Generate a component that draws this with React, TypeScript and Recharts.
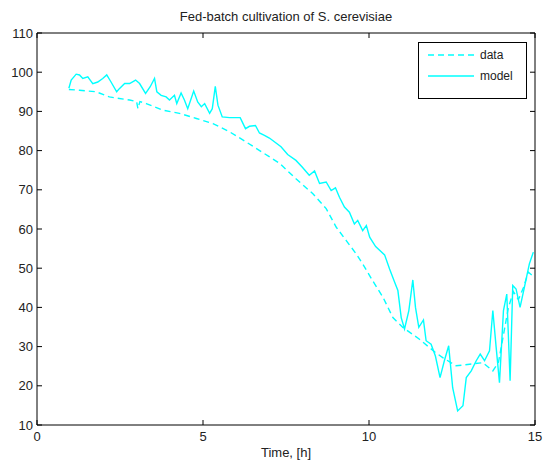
import * as React from "react";
import { LineChart, Line, XAxis, YAxis, Legend } from "recharts";

// noisy solid curve ("model")
const modelTime = [
  0.96, 1.03, 1.18, 1.28, 1.38, 1.53, 1.68, 1.83, 1.98, 2.1, 2.23, 2.4, 2.48, 2.64, 2.79, 2.97,
  3.09, 3.27, 3.41, 3.54, 3.61, 3.74, 3.89, 3.99, 4.14, 4.21, 4.34, 4.44, 4.54, 4.72, 4.84, 4.95,
  5.05, 5.2, 5.28, 5.37, 5.45, 5.58, 5.8, 6.12, 6.28, 6.4, 6.58, 6.7, 6.85, 7.0, 7.35, 7.55,
  7.8, 8.0, 8.2, 8.36, 8.51, 8.71, 8.86, 8.99, 9.11, 9.26, 9.41, 9.56, 9.66, 9.81, 9.92, 10.02,
  10.2, 10.47, 10.62, 10.77, 10.87, 10.97, 11.07, 11.2, 11.32, 11.4, 11.5, 11.64, 11.72, 11.87,
  12.0, 12.14, 12.27, 12.4, 12.52, 12.67, 12.83, 12.93, 13.08, 13.23, 13.35, 13.48, 13.63, 13.73,
  13.83, 13.93, 14.05, 14.15, 14.25, 14.33, 14.43, 14.55, 14.68, 14.83, 14.95,
];
const modelValue = [
  95.9, 98, 99.5, 99.3, 98.4, 98.8, 97.1, 97.5, 98.4, 99.3, 97.5, 95, 95.8, 97.1, 97.1, 98,
  97.1, 94.6, 96.3, 98.4, 95, 94.1, 93.7, 92.9, 94.1, 92, 94.7, 92.9, 90.7, 95.2, 92.4, 91.2,
  92, 89.5, 90.7, 96.4, 91.6, 88.6, 88.4, 88.4, 85.6, 86.2, 86.4, 84.5, 83.9, 83.2, 81, 79,
  77.5, 75.7, 73.7, 74.8, 71.6, 72, 69.8, 70.5, 68.1, 65.6, 64.3, 61.3, 62.2, 59.6, 60.9, 57.9,
  55.5, 53.4, 49.8, 46.5, 44.3, 37.4, 34.5, 39.2, 47, 40, 34.9, 36.8, 31.5, 30.6,
  27.6, 22.1, 26.4, 30.2, 19.5, 13.6, 14.9, 22.1, 23.8, 26.4, 28.1, 26.4, 28.9, 39.2,
  29.8, 20.8, 39.2, 43.4, 21.3, 45.6, 44.7, 40, 45.1, 51.1, 54.1,
];

// smooth dashed curve ("data")
const dataTime = [
  0.96, 1.28, 1.78, 2.18, 2.79, 3.0, 3.04, 3.1, 3.29, 3.79, 4.29, 4.8, 5.3, 5.8, 6.3, 6.8, 7.3,
  7.8, 8.31, 8.71, 9.01, 9.31, 9.61, 9.81, 10.11, 10.42, 10.72, 11.02, 11.5, 12.0, 12.22, 12.62,
  13.03, 13.43, 13.73, 13.9, 14.05, 14.2, 14.35, 14.5, 14.65, 14.8, 14.98,
];
const dataValue = [
  95.6, 95.4, 95, 93.7, 92.9, 92.5, 90.7, 92.5, 92, 90.3, 89.5, 88.2, 86.9, 84.8, 82.2, 79.5, 76.8,
  72.8, 69, 65.2, 60.5, 57.1, 53.7, 51.1, 46.8, 42.6, 37.4, 34.9, 32, 28.5, 27.2, 25.1,
  25.5, 25.9, 23.8, 26, 33, 40, 44, 42, 45, 49, 47.7,
];

const xTicks = [0, 5, 10, 15];
const yTicks = [10, 20, 30, 40, 50, 60, 70, 80, 90, 100, 110];

const modelSeries = modelTime.map((t, i) => ({ t, v: modelValue[i] }));
const dataSeries = dataTime.map((t, i) => ({ t, v: dataValue[i] }));

const FONT = "'Liberation Sans', Arial, sans-serif";
const CYAN = "#00ffff";

const BottomTick = (p: any) => (
  <g>
    <line x1={p.x} x2={p.x} y1={p.y} y2={p.y - 5} stroke="#000" />
    <text x={p.x} y={p.y + 16} textAnchor="middle" fontSize={13} fontFamily={FONT} fill="#222">
      {p.payload.value}
    </text>
  </g>
);
const TopTick = (p: any) => <line x1={p.x} x2={p.x} y1={p.y} y2={p.y + 5} stroke="#000" />;
const LeftTick = (p: any) => (
  <g>
    <line x1={p.x} x2={p.x + 5} y1={p.y} y2={p.y} stroke="#000" />
    <text x={p.x - 4} y={p.y + 4.5} textAnchor="end" fontSize={13} fontFamily={FONT} fill="#222">
      {p.payload.value}
    </text>
  </g>
);
const RightTick = (p: any) => <line x1={p.x} x2={p.x - 5} y1={p.y} y2={p.y} stroke="#000" />;

const renderLegend = () => (
  <div
    style={{
      width: 109, height: 57, boxSizing: "border-box", border: "1px solid #000",
      background: "#fff", fontFamily: FONT, fontSize: 12,
    }}
  >
    <svg width={107} height={55}>
      <line x1={9} x2={55} y1={12} y2={12} stroke={CYAN} strokeWidth={1.5} strokeDasharray="6 4" />
      <text x={61} y={16} fontSize={12} fontFamily={FONT} fill="#222">data</text>
      <line x1={9} x2={55} y1={33} y2={33} stroke={CYAN} strokeWidth={1.5} />
      <text x={61} y={37} fontSize={12} fontFamily={FONT} fill="#222">model</text>
    </svg>
  </div>
);

export default function App() {
  return (
    <div style={{ position: "relative", width: 546, height: 466, background: "#fff" }}>
      <style>{"body{margin:0}"}</style>
      <div
        style={{
          position: "absolute", top: 9, left: 37, width: 498, textAlign: "center",
          fontFamily: FONT, fontSize: 13, color: "#222",
        }}
      >
        Fed-batch cultivation of S. cerevisiae
      </div>
      <div
        style={{
          position: "absolute", top: 445, left: 37, width: 498, textAlign: "center",
          fontFamily: FONT, fontSize: 13, color: "#222",
        }}
      >
        Time, [h]
      </div>
      <LineChart width={546} height={466} margin={{ top: 32, right: 10, bottom: 0, left: 0 }}>
        <XAxis
          xAxisId="bottom" type="number" dataKey="t" domain={[0, 15]} ticks={xTicks}
          height={41} tickSize={0} tickMargin={0} tickLine={false} tick={BottomTick}
          axisLine={{ stroke: "#000" }} allowDataOverflow
        />
        <XAxis
          xAxisId="top" orientation="top" type="number" dataKey="t" domain={[0, 15]} ticks={xTicks}
          height={1} tickSize={0} tickMargin={0} tickLine={false} tick={TopTick}
          axisLine={{ stroke: "#000" }} allowDataOverflow
        />
        <YAxis
          yAxisId="left" type="number" domain={[10, 110]} ticks={yTicks} width={37}
          tickSize={0} tickMargin={0} tickLine={false} tick={LeftTick}
          axisLine={{ stroke: "#000" }} allowDataOverflow
        />
        <YAxis
          yAxisId="right" orientation="right" type="number" domain={[10, 110]} ticks={yTicks}
          width={1} tickSize={0} tickMargin={0} tickLine={false} tick={RightTick}
          axisLine={{ stroke: "#000" }} allowDataOverflow
        />
        <Legend
          layout="horizontal" verticalAlign="middle" align="center" content={renderLegend}
          wrapperStyle={{ left: 418, top: 42, width: 109, height: 57 }}
        />
        <Line
          xAxisId="bottom" yAxisId="left" data={dataSeries} dataKey="v" name="data"
          stroke={CYAN} strokeWidth={1.4} strokeDasharray="6 4" dot={false} isAnimationActive={false}
        />
        <Line
          xAxisId="bottom" yAxisId="left" data={modelSeries} dataKey="v" name="model"
          stroke={CYAN} strokeWidth={1.4} dot={false} isAnimationActive={false}
        />
        <Line
          xAxisId="top" yAxisId="right" data={modelSeries} dataKey="v" stroke="none"
          dot={false} legendType="none" isAnimationActive={false}
        />
      </LineChart>
    </div>
  );
}
